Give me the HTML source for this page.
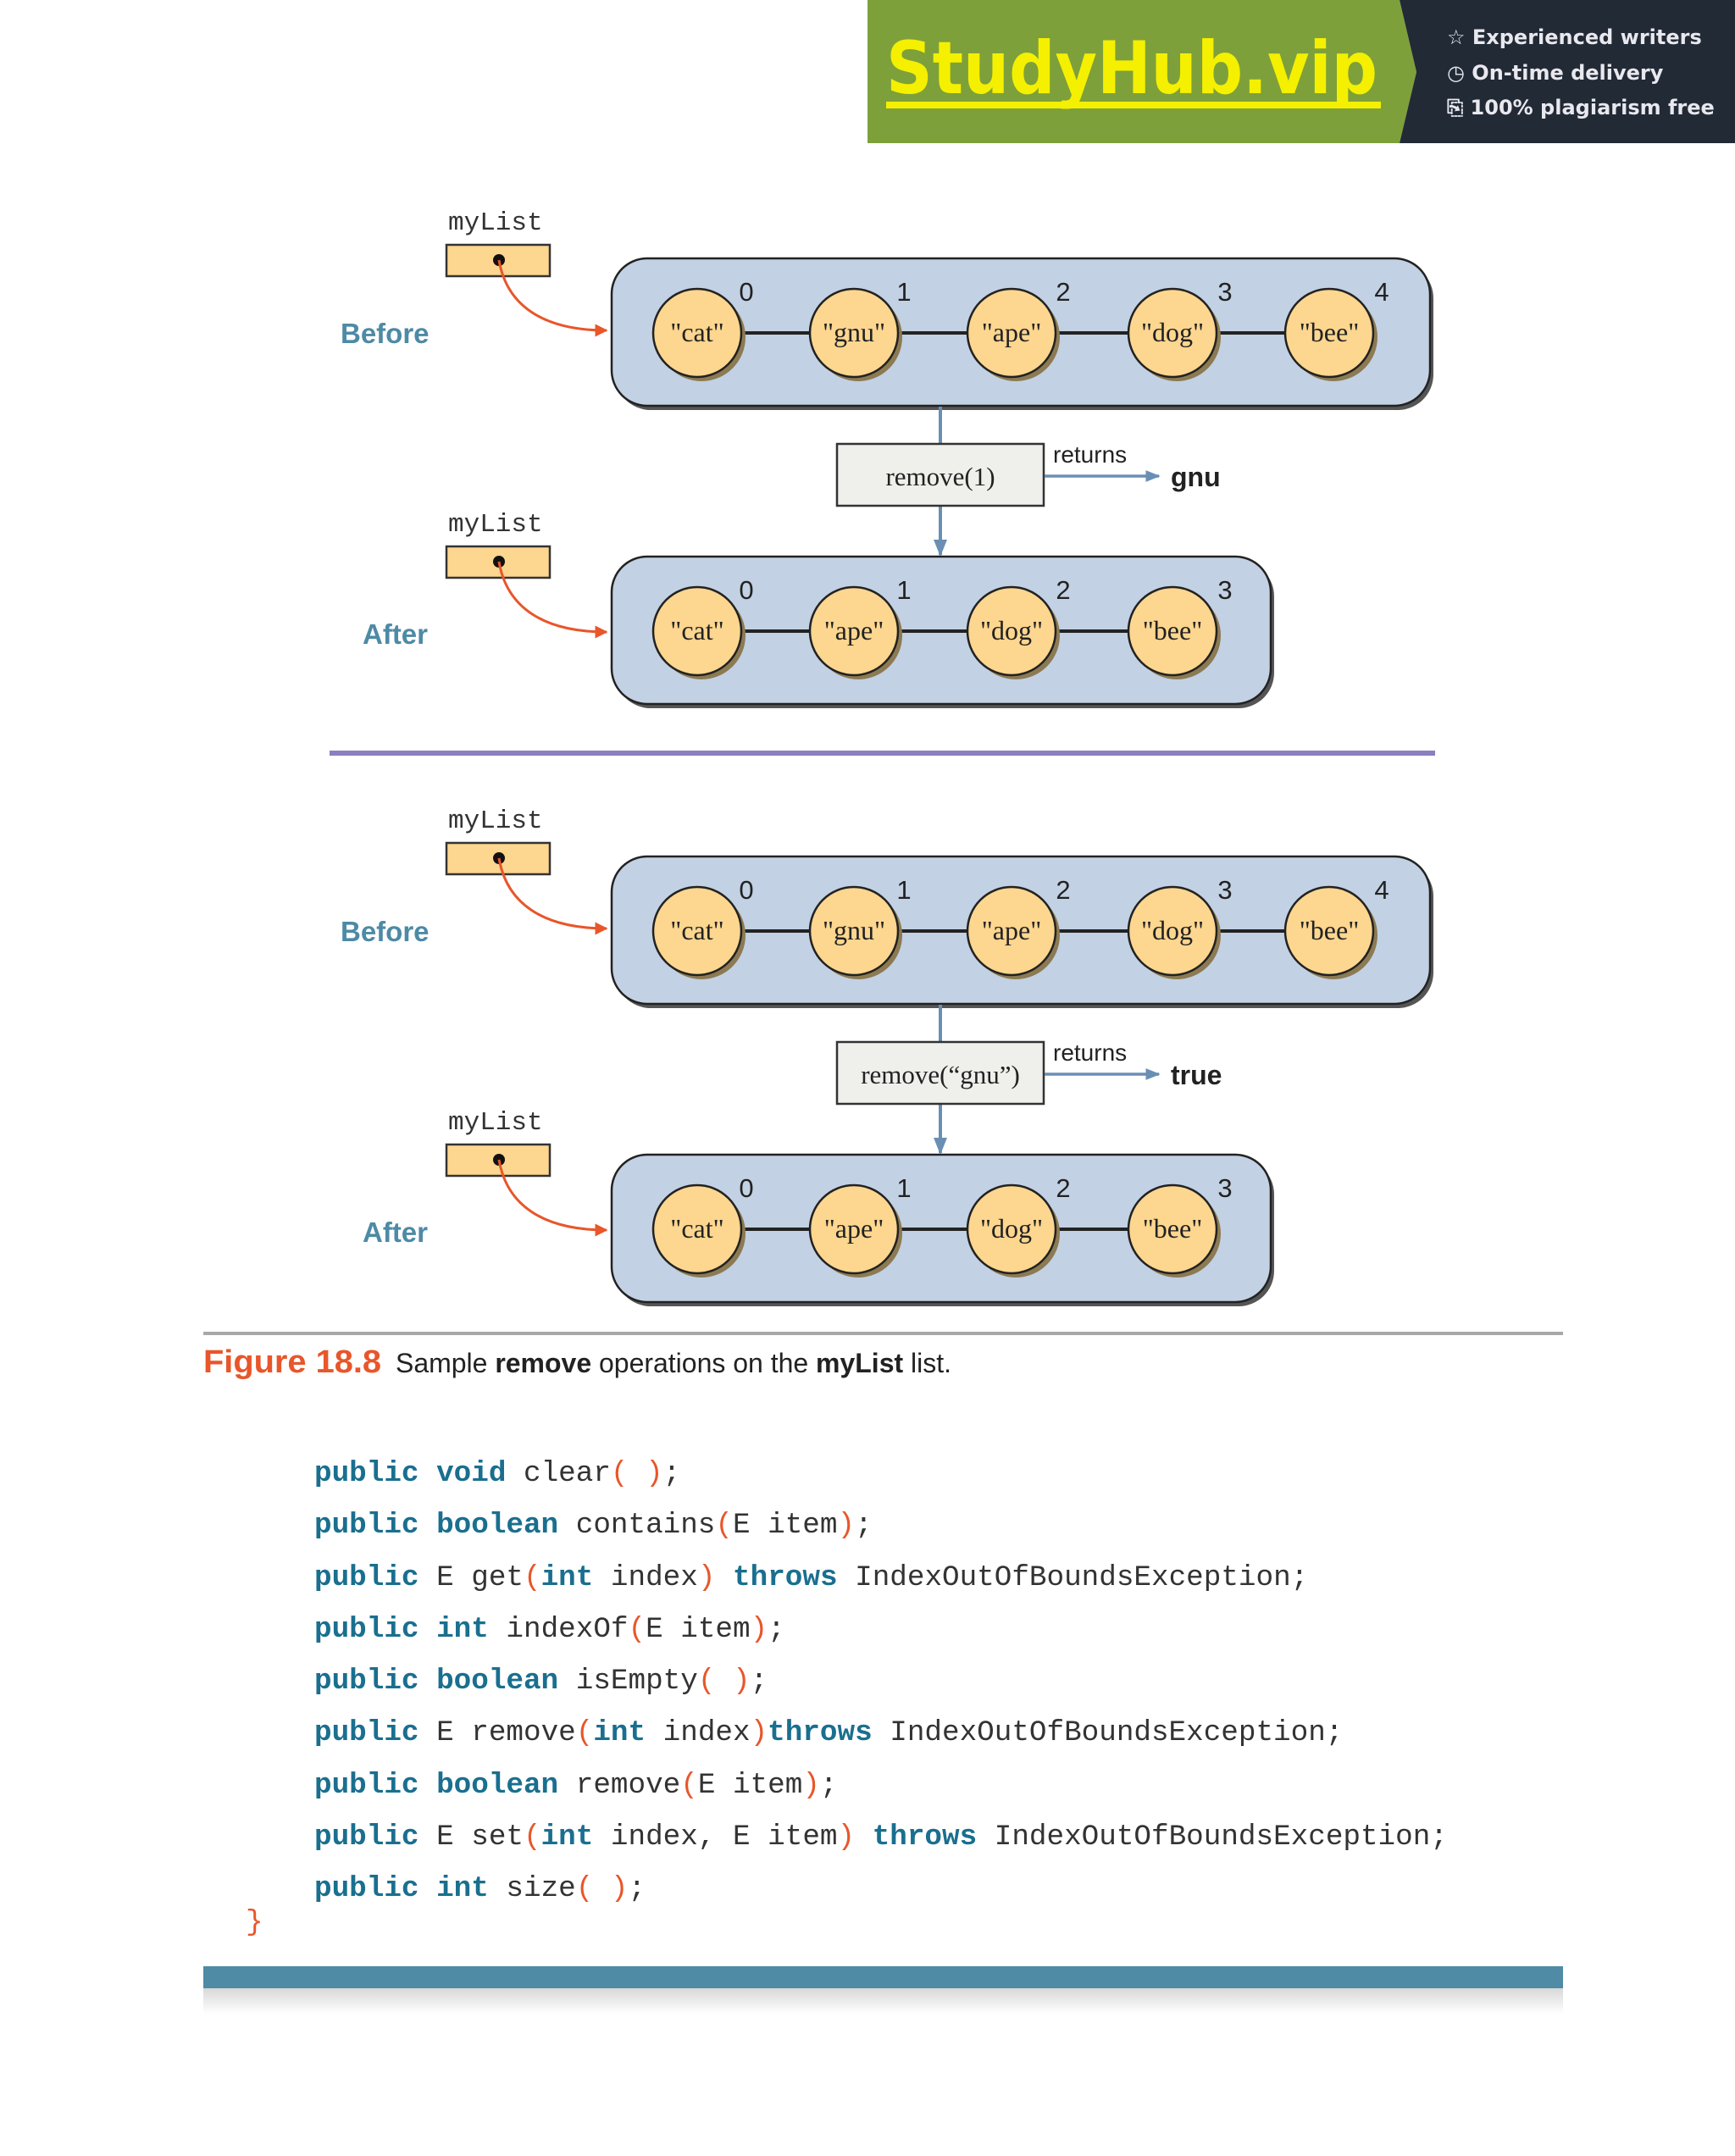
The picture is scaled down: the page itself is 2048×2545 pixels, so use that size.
<!DOCTYPE html>
<html><head><meta charset="utf-8"><style>
html,body{margin:0;padding:0;background:#fff;}
svg{display:block;}
</style></head><body>
<svg width="2048" height="2545" viewBox="0 0 2048 2545" xmlns="http://www.w3.org/2000/svg">
<defs>
<marker id="ao" viewBox="0 0 10 10" refX="9" refY="5" markerWidth="5" markerHeight="5" orient="auto"><path d="M0,0 L10,5 L0,10 z" fill="#e8562a"/></marker>
<marker id="ab" viewBox="0 0 10 10" refX="9" refY="5" markerWidth="5" markerHeight="5" orient="auto"><path d="M0,1 L10,5 L0,9 z" fill="#6a8fb5"/></marker>
<linearGradient id="sh" x1="0" y1="0" x2="0" y2="1"><stop offset="0" stop-color="#d8d8d8"/><stop offset="1" stop-color="#fff"/></linearGradient>
<g id="c">
<circle cx="5" cy="5" r="52" fill="#8c7a52"/>
<circle cx="0" cy="0" r="52" fill="#fdd68f" stroke="#222" stroke-width="2.5"/>
</g>
<g id="ptr">
<rect x="527" y="289" width="122" height="37" fill="#fdd68f" stroke="#333" stroke-width="2.5"/>
<circle cx="589" cy="307" r="7" fill="#111"/>
<path d="M589,307 C598,360 640,390 716,390" fill="none" stroke="#e8562a" stroke-width="3" marker-end="url(#ao)"/>
<text x="529" y="271" font-family="Liberation Mono, monospace" font-size="31" fill="#333">myList</text>
</g>
</defs>
<polygon points="1024,0 1652,0 1672,85 1652,169 1024,169" fill="#7ea03a"/>
<polygon points="1652,0 2048,0 2048,169 1652,169 1672,85" fill="#222a36"/>
<text x="1046" y="110" font-family="DejaVu Sans, sans-serif" font-weight="bold" font-size="86" fill="#f4f000" textLength="580" lengthAdjust="spacingAndGlyphs">StudyHub.vip</text>
<rect x="1046" y="120" width="584" height="8" fill="#f4f000"/>
<g font-family="DejaVu Sans, sans-serif" font-weight="bold" font-size="24" fill="#e8e8ee">
<text x="1708" y="52">☆ Experienced writers</text>
<text x="1708" y="94">◷ On-time delivery</text>
<text x="1708" y="135">⎘ 100% plagiarism free</text>
</g>

<g id="sec1">
<use href="#ptr"/>
<text x="402" y="405" font-family="Liberation Sans, sans-serif" font-weight="bold" font-size="33" fill="#4d8aa5">Before</text>
<rect x="726" y="310" width="966" height="174" rx="42" fill="#555"/>
<rect x="722" y="305" width="966" height="174" rx="42" fill="#c2d1e3" stroke="#222" stroke-width="2.5"/>
<line x1="823" y1="393" x2="1569" y2="393" stroke="#222" stroke-width="4"/>
<use href="#c" x="823" y="393"/><use href="#c" x="1008" y="393"/><use href="#c" x="1194" y="393"/><use href="#c" x="1384" y="393"/><use href="#c" x="1569" y="393"/>
<g font-family="Liberation Serif, serif" font-size="32" fill="#222" text-anchor="middle">
<text x="823" y="403">"cat"</text><text x="1008" y="403">"gnu"</text><text x="1194" y="403">"ape"</text><text x="1384" y="403">"dog"</text><text x="1569" y="403">"bee"</text>
</g>
<g font-family="Liberation Sans, sans-serif" font-size="31" fill="#222" text-anchor="middle">
<text x="881" y="355">0</text><text x="1067" y="355">1</text><text x="1255" y="355">2</text><text x="1446" y="355">3</text><text x="1631" y="355">4</text>
</g>
<line x1="1110" y1="480" x2="1110" y2="524" stroke="#6a8fb5" stroke-width="4"/>
<line x1="1110" y1="597" x2="1110" y2="655" stroke="#6a8fb5" stroke-width="4" marker-end="url(#ab)"/>
<rect x="988" y="524" width="244" height="73" fill="#eff0ec" stroke="#333" stroke-width="2.5"/>
<text x="1110" y="573" font-family="Liberation Serif, serif" font-size="31" fill="#222" text-anchor="middle">remove(1)</text>
<text x="1243" y="546" font-family="Liberation Sans, sans-serif" font-size="28" fill="#222">returns</text>
<line x1="1233" y1="562" x2="1368" y2="562" stroke="#6a8fb5" stroke-width="3.5" marker-end="url(#ab)"/>
<text x="1382" y="574" font-family="Liberation Sans, sans-serif" font-weight="bold" font-size="32" fill="#222">gnu</text>

<use href="#ptr" y="356"/>
<text x="428" y="760" font-family="Liberation Sans, sans-serif" font-weight="bold" font-size="33" fill="#4d8aa5">After</text>
<rect x="726" y="662" width="778" height="174" rx="42" fill="#555"/>
<rect x="722" y="657" width="778" height="174" rx="42" fill="#c2d1e3" stroke="#222" stroke-width="2.5"/>
<line x1="823" y1="745" x2="1384" y2="745" stroke="#222" stroke-width="4"/>
<use href="#c" x="823" y="745"/><use href="#c" x="1008" y="745"/><use href="#c" x="1194" y="745"/><use href="#c" x="1384" y="745"/>
<g font-family="Liberation Serif, serif" font-size="32" fill="#222" text-anchor="middle">
<text x="823" y="755">"cat"</text><text x="1008" y="755">"ape"</text><text x="1194" y="755">"dog"</text><text x="1384" y="755">"bee"</text>
</g>
<g font-family="Liberation Sans, sans-serif" font-size="31" fill="#222" text-anchor="middle">
<text x="881" y="707">0</text><text x="1067" y="707">1</text><text x="1255" y="707">2</text><text x="1446" y="707">3</text>
</g>
</g>

<rect x="389" y="886" width="1305" height="6" fill="#8b7fc0"/>

<g transform="translate(0,706)">
<use href="#ptr"/>
<text x="402" y="405" font-family="Liberation Sans, sans-serif" font-weight="bold" font-size="33" fill="#4d8aa5">Before</text>
<rect x="726" y="310" width="966" height="174" rx="42" fill="#555"/>
<rect x="722" y="305" width="966" height="174" rx="42" fill="#c2d1e3" stroke="#222" stroke-width="2.5"/>
<line x1="823" y1="393" x2="1569" y2="393" stroke="#222" stroke-width="4"/>
<use href="#c" x="823" y="393"/><use href="#c" x="1008" y="393"/><use href="#c" x="1194" y="393"/><use href="#c" x="1384" y="393"/><use href="#c" x="1569" y="393"/>
<g font-family="Liberation Serif, serif" font-size="32" fill="#222" text-anchor="middle">
<text x="823" y="403">"cat"</text><text x="1008" y="403">"gnu"</text><text x="1194" y="403">"ape"</text><text x="1384" y="403">"dog"</text><text x="1569" y="403">"bee"</text>
</g>
<g font-family="Liberation Sans, sans-serif" font-size="31" fill="#222" text-anchor="middle">
<text x="881" y="355">0</text><text x="1067" y="355">1</text><text x="1255" y="355">2</text><text x="1446" y="355">3</text><text x="1631" y="355">4</text>
</g>
<line x1="1110" y1="480" x2="1110" y2="524" stroke="#6a8fb5" stroke-width="4"/>
<line x1="1110" y1="597" x2="1110" y2="655" stroke="#6a8fb5" stroke-width="4" marker-end="url(#ab)"/>
<rect x="988" y="524" width="244" height="73" fill="#eff0ec" stroke="#333" stroke-width="2.5"/>
<text x="1110" y="573" font-family="Liberation Serif, serif" font-size="31" fill="#222" text-anchor="middle">remove(“gnu”)</text>
<text x="1243" y="546" font-family="Liberation Sans, sans-serif" font-size="28" fill="#222">returns</text>
<line x1="1233" y1="562" x2="1368" y2="562" stroke="#6a8fb5" stroke-width="3.5" marker-end="url(#ab)"/>
<text x="1382" y="574" font-family="Liberation Sans, sans-serif" font-weight="bold" font-size="32" fill="#222">true</text>

<use href="#ptr" y="356"/>
<text x="428" y="760" font-family="Liberation Sans, sans-serif" font-weight="bold" font-size="33" fill="#4d8aa5">After</text>
<rect x="726" y="662" width="778" height="174" rx="42" fill="#555"/>
<rect x="722" y="657" width="778" height="174" rx="42" fill="#c2d1e3" stroke="#222" stroke-width="2.5"/>
<line x1="823" y1="745" x2="1384" y2="745" stroke="#222" stroke-width="4"/>
<use href="#c" x="823" y="745"/><use href="#c" x="1008" y="745"/><use href="#c" x="1194" y="745"/><use href="#c" x="1384" y="745"/>
<g font-family="Liberation Serif, serif" font-size="32" fill="#222" text-anchor="middle">
<text x="823" y="755">"cat"</text><text x="1008" y="755">"ape"</text><text x="1194" y="755">"dog"</text><text x="1384" y="755">"bee"</text>
</g>
<g font-family="Liberation Sans, sans-serif" font-size="31" fill="#222" text-anchor="middle">
<text x="881" y="707">0</text><text x="1067" y="707">1</text><text x="1255" y="707">2</text><text x="1446" y="707">3</text>
</g>
</g>

<rect x="240" y="1572" width="1605" height="4" fill="#a8a8a8"/>
<text x="240" y="1620" font-family="Liberation Sans, sans-serif" font-weight="bold" font-size="38" fill="#e8562a" textLength="210" lengthAdjust="spacingAndGlyphs">Figure 18.8</text>
<text x="467" y="1620" font-family="Liberation Sans, sans-serif" font-size="32" fill="#222" textLength="656" lengthAdjust="spacingAndGlyphs">Sample <tspan font-weight="bold">remove</tspan> operations on the <tspan font-weight="bold">myList</tspan> list.</text>

<g font-family="Liberation Mono, monospace" font-size="34.3" fill="#333" xml:space="preserve">
<text x="371" y="1748"><tspan fill="#1a6f8f" font-weight="bold">public void</tspan> clear<tspan fill="#e8562a">( )</tspan>;</text>
<text x="371" y="1809"><tspan fill="#1a6f8f" font-weight="bold">public boolean</tspan> contains<tspan fill="#e8562a">(</tspan>E item<tspan fill="#e8562a">)</tspan>;</text>
<text x="371" y="1871"><tspan fill="#1a6f8f" font-weight="bold">public</tspan> E get<tspan fill="#e8562a">(</tspan><tspan fill="#1a6f8f" font-weight="bold">int</tspan> index<tspan fill="#e8562a">)</tspan> <tspan fill="#1a6f8f" font-weight="bold">throws</tspan> IndexOutOfBoundsException;</text>
<text x="371" y="1932"><tspan fill="#1a6f8f" font-weight="bold">public int</tspan> indexOf<tspan fill="#e8562a">(</tspan>E item<tspan fill="#e8562a">)</tspan>;</text>
<text x="371" y="1993"><tspan fill="#1a6f8f" font-weight="bold">public boolean</tspan> isEmpty<tspan fill="#e8562a">( )</tspan>;</text>
<text x="371" y="2054"><tspan fill="#1a6f8f" font-weight="bold">public</tspan> E remove<tspan fill="#e8562a">(</tspan><tspan fill="#1a6f8f" font-weight="bold">int</tspan> index<tspan fill="#e8562a">)</tspan><tspan fill="#1a6f8f" font-weight="bold">throws</tspan> IndexOutOfBoundsException;</text>
<text x="371" y="2116"><tspan fill="#1a6f8f" font-weight="bold">public boolean</tspan> remove<tspan fill="#e8562a">(</tspan>E item<tspan fill="#e8562a">)</tspan>;</text>
<text x="371" y="2177"><tspan fill="#1a6f8f" font-weight="bold">public</tspan> E set<tspan fill="#e8562a">(</tspan><tspan fill="#1a6f8f" font-weight="bold">int</tspan> index, E item<tspan fill="#e8562a">)</tspan> <tspan fill="#1a6f8f" font-weight="bold">throws</tspan> IndexOutOfBoundsException;</text>
<text x="371" y="2238"><tspan fill="#1a6f8f" font-weight="bold">public int</tspan> size<tspan fill="#e8562a">( )</tspan>;</text>
<text x="290" y="2278" fill="#e8562a">}</text>
</g>

<rect x="240" y="2321" width="1605" height="26" fill="#4f8ba5"/>
<rect x="240" y="2347" width="1605" height="30" fill="url(#sh)"/>
</svg>
</body></html>
